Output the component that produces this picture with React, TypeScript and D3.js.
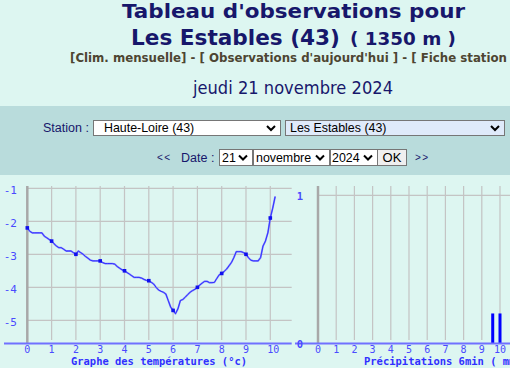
import React from "react";
import * as d3 from "d3";

// ---- data ----
const temps: number[] = [
  -2.2, -2.3, -2.35, -2.35, -2.35, -2.35, -2.35, -2.45, -2.5, -2.55,
  -2.6, -2.68, -2.75, -2.8, -2.8, -2.85, -2.9, -2.9, -2.9, -2.95,
  -3.0, -2.9, -2.95, -3.0, -3.07, -3.12, -3.18, -3.2, -3.2, -3.2,
  -3.2, -3.25, -3.28, -3.28, -3.28, -3.28, -3.3, -3.37, -3.42, -3.47,
  -3.5, -3.55, -3.6, -3.65, -3.7, -3.7, -3.7, -3.72, -3.76, -3.79,
  -3.8, -3.85, -3.9, -4.0, -4.08, -4.12, -4.15, -4.2, -4.4, -4.6,
  -4.7, -4.8, -4.65, -4.4, -4.37, -4.3, -4.22, -4.15, -4.1, -4.06,
  -4.0, -3.93, -3.87, -3.82, -3.82, -3.86, -3.86, -3.85, -3.73, -3.62,
  -3.58, -3.52, -3.45, -3.35, -3.25, -3.1, -2.92, -2.92, -2.92, -2.95,
  -3.0, -3.1, -3.18, -3.2, -3.2, -3.2, -3.1, -2.75, -2.6, -2.35,
  -1.9, -1.6, -1.25,
];
const sampleStepHours = 0.1; // 6-minute readings
const hourTicks = [0, 1, 2, 3, 4, 5, 6, 7, 8, 9, 10];
const tempTicks = [-1, -2, -3, -4, -5];
const precipHours = [9.6, 10.0];
const precipValues = [0.2, 0.2];
const precipTicks = [0, 1];

const BG = "#ddf6f1";
const BAND = "#b9dcdc";
const NAVY = "#17176b";
const GRID = "#c4c4c4";
const AXISGRAY = "#a8a8a8";
const BLUELINE = "#7070ff";
const LABEL = "#4a4aff";

function Chevron({ x, y }: { x: number; y: number }) {
  return (
    <path
      d={`M${x - 4},${y - 2} L${x},${y + 2} L${x + 4},${y - 2}`}
      fill="none"
      stroke="#000"
      strokeWidth={2}
    />
  );
}

function Select({ x, y, w, h, text, bg, tx }: any) {
  return (
    <g>
      <rect x={x + 0.5} y={y + 0.5} width={w} height={h} fill={bg} stroke="#767676" />
      <text x={tx} y={y + h - 3.5} fontFamily="'Liberation Sans', Arial" fontSize={12.4} fill="#000">
        {text}
      </text>
      <Chevron x={x + w - 9} y={y + h / 2 + 0.5} />
    </g>
  );
}

export default function App() {
  // temperature chart scales
  const xT = d3.scaleLinear().domain([0, 10]).range([27.3, 270.3]);
  const yT = d3.scaleLinear().domain([-1, -5]).range([188.3, 320.3]);
  // precipitation chart scales
  const xP = d3.scaleLinear().domain([0, 10]).range([318, 500]);
  const yP = d3.scaleLinear().domain([0, 1]).range([343, 195.3]);

  const pts = temps.map((t, i) => ({ h: i * sampleStepHours, t }));
  const line = d3
    .line<{ h: number; t: number }>()
    .x((d) => xT(d.h))
    .y((d) => yT(d.t));
  const markers = pts.filter((_, i) => i % 10 === 0);

  const gridTop = 186;
  const gridBottom = 340;
  const axisY = 343.5;

  return (
    <svg
      width={510}
      height={368}
      style={{ position: "absolute", left: 0, top: 0 }}
      xmlns="http://www.w3.org/2000/svg"
    >
      <rect x={0} y={0} width={510} height={368} fill={BG} />

      {/* header */}
      <text x={122} y={17.5} fontFamily="'DejaVu Sans', Verdana" fontWeight="bold" fontSize={20} fill={NAVY}
        textLength={343} lengthAdjust="spacingAndGlyphs">
        Tableau d'observations pour
      </text>
      <text x={131} y={44.5} fontFamily="'DejaVu Sans', Verdana" fontWeight="bold" fontSize={22} fill={NAVY}
        textLength={209} lengthAdjust="spacingAndGlyphs">
        Les Estables (43)
      </text>
      <text x={350} y={44.5} fontFamily="'DejaVu Sans', Verdana" fontWeight="bold" fontSize={17} fill={NAVY}
        textLength={106} lengthAdjust="spacingAndGlyphs">
        ( 1350 m )
      </text>
      <text x={70} y={62} fontFamily="'DejaVu Sans', Verdana" fontWeight="bold" fontSize={12} fill="#4d4532"
        textLength={437} lengthAdjust="spacingAndGlyphs">
        [Clim. mensuelle] - [ Observations d'aujourd'hui ] - [ Fiche station
      </text>
      <text x={193} y={94.3} fontFamily="'DejaVu Sans', Verdana" fontSize={17} fill={NAVY}
        textLength={200} lengthAdjust="spacingAndGlyphs">
        jeudi 21 novembre 2024
      </text>

      {/* control band */}
      <rect x={0} y={106} width={510} height={69} fill={BAND} />
      <text x={43} y={132} fontFamily="'Liberation Sans', Arial" fontSize={12.5} fill={NAVY}>
        Station :
      </text>
      <Select x={93} y={120} w={187} h={15} text="Haute-Loire (43)" bg="#ffffff" tx={104} />
      <Select x={285} y={120} w={219} h={15} text="Les Estables (43)" bg="#dfeafa" tx={290} />

      <text x={157} y={161} fontFamily="'Liberation Sans', Arial" fontSize={10} letterSpacing={1.5} fill={NAVY}>
        {"<<"}
      </text>
      <text x={181} y={162} fontFamily="'Liberation Sans', Arial" fontSize={12.5} fill={NAVY}>
        Date :
      </text>
      <Select x={219} y={149} w={33} h={16} text="21" bg="#ffffff" tx={222} />
      <Select x={253} y={149} w={76} h={16} text="novembre" bg="#ffffff" tx={256} />
      <Select x={330} y={149} w={47} h={16} text="2024" bg="#ffffff" tx={332} />
      <rect x={377.5} y={149.5} width={29} height={16} fill="#efefef" stroke="#767676" />
      <text x={392} y={161.5} textAnchor="middle" fontFamily="'Liberation Sans', Arial" fontSize={13} fill="#000">
        OK
      </text>
      <text x={415} y={161} fontFamily="'Liberation Sans', Arial" fontSize={10} letterSpacing={1.5} fill={NAVY}>
        {">>"}
      </text>

      {/* ---- temperature chart ---- */}
      <g>
        {tempTicks.map((t) => (
          <line key={"hg" + t} x1={xT(0)} x2={291.7} y1={yT(t)} y2={yT(t)} stroke={GRID} strokeWidth={1.2} />
        ))}
        {hourTicks.slice(1).map((h) => (
          <line key={"vg" + h} x1={xT(h)} x2={xT(h)} y1={gridTop} y2={gridBottom} stroke={GRID} strokeWidth={1.2} />
        ))}
        <line x1={xT(0)} x2={xT(0)} y1={gridTop} y2={axisY} stroke={AXISGRAY} strokeWidth={2.5} />
        <line x1={4} x2={291.7} y1={axisY} y2={axisY} stroke={BLUELINE} strokeWidth={2} />
        {tempTicks.map((t) => (
          <text key={"yl" + t} x={17} y={yT(t) + 6} textAnchor="end" fontFamily="'DejaVu Sans Mono', monospace"
            fontSize={11} fill={LABEL}>
            {t}
          </text>
        ))}
        {hourTicks.map((h) => (
          <text key={"xl" + h} x={xT(h) - 3} y={353} fontFamily="'DejaVu Sans Mono', monospace" fontSize={10}
            fill={LABEL}>
            {h}
          </text>
        ))}
        <path d={line(pts) || ""} fill="none" stroke="#8080ff" strokeWidth={1.8} strokeLinejoin="round" />
        <path d={line(pts) || ""} fill="none" stroke="#2a2aff" strokeWidth={0.9} strokeLinejoin="round" />
        {markers.map((d) => (
          <rect key={"m" + d.h} x={xT(d.h) - 1.8} y={yT(d.t) - 1.8} width={3.6} height={3.6} fill="#1010ee" />
        ))}
        <text x={71} y={364.5} fontFamily="'DejaVu Sans Mono', monospace" fontWeight="bold" fontSize={10.5}
          fill="#3030ff" textLength={176} lengthAdjust="spacingAndGlyphs">
          Graphe des températures (°c)
        </text>
      </g>

      {/* ---- precipitation chart ---- */}
      <g>
        <line x1={xP(0)} x2={510} y1={yP(1)} y2={yP(1)} stroke={GRID} strokeWidth={1.2} />
        {hourTicks.slice(1).map((h) => (
          <line key={"pg" + h} x1={xP(h)} x2={xP(h)} y1={gridTop} y2={gridBottom} stroke={GRID} strokeWidth={1.2} />
        ))}
        <line x1={xP(0)} x2={xP(0)} y1={gridTop} y2={axisY} stroke={AXISGRAY} strokeWidth={2.5} />
        {precipHours.map((h, i) => (
          <rect key={"pb" + h} x={xP(h) - 1.5} y={yP(precipValues[i])} width={3}
            height={yP(0) - yP(precipValues[i])} fill="#0000ff" />
        ))}
        <line x1={295} x2={510} y1={axisY} y2={axisY} stroke={BLUELINE} strokeWidth={2} />
        {precipTicks.map((v) => (
          <text key={"pyl" + v} x={300} y={yP(v) + 5} textAnchor="middle" fontFamily="'DejaVu Sans Mono', monospace"
            fontWeight="bold" fontSize={10.5} fill={LABEL}>
            {v}
          </text>
        ))}
        {hourTicks.map((h) => (
          <text key={"pxl" + h} x={xP(h)} y={353} textAnchor="middle" fontFamily="'DejaVu Sans Mono', monospace"
            fontSize={10} fill={LABEL}>
            {h}
          </text>
        ))}
        <text x={364} y={364.5} fontFamily="'DejaVu Sans Mono', monospace" fontWeight="bold" fontSize={10.5}
          fill="#3030ff" textLength={164} lengthAdjust="spacingAndGlyphs">
          Précipitations 6min ( mm )
        </text>
      </g>
    </svg>
  );
}
